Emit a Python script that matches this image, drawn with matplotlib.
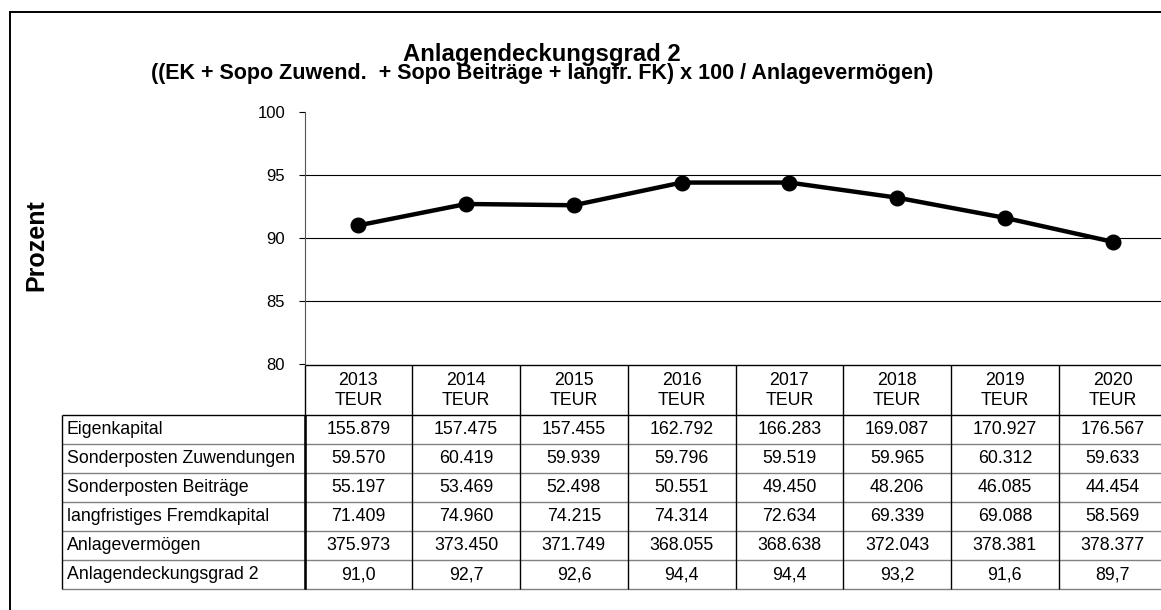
import matplotlib
matplotlib.use("Agg")
import matplotlib.pyplot as plt
from matplotlib.patches import Rectangle

plt.rcParams['font.family'] = ['Liberation Sans', 'DejaVu Sans']

years = ["2013", "2014", "2015", "2016", "2017", "2018", "2019", "2020"]
unit = "TEUR"
row_labels = ["Eigenkapital", "Sonderposten Zuwendungen", "Sonderposten Beiträge",
              "langfristiges Fremdkapital", "Anlagevermögen", "Anlagendeckungsgrad 2"]
eigenkapital = ["155.879", "157.475", "157.455", "162.792", "166.283", "169.087", "170.927", "176.567"]
sopo_zuw = ["59.570", "60.419", "59.939", "59.796", "59.519", "59.965", "60.312", "59.633"]
sopo_beitr = ["55.197", "53.469", "52.498", "50.551", "49.450", "48.206", "46.085", "44.454"]
langfr_fk = ["71.409", "74.960", "74.215", "74.314", "72.634", "69.339", "69.088", "58.569"]
anlageverm = ["375.973", "373.450", "371.749", "368.055", "368.638", "372.043", "378.381", "378.377"]
deckungsgrad = [91.0, 92.7, 92.6, 94.4, 94.4, 93.2, 91.6, 89.7]

title = "Anlagendeckungsgrad 2"
subtitle = "((EK + Sopo Zuwend.  + Sopo Beiträge + langfr. FK) x 100 / Anlagevermögen)"

W, H = 1161, 610
fig = plt.figure(figsize=(W / 100, H / 100), dpi=100)

# outer chart frame (only top and left edges visible in the picture)
fig.add_artist(Rectangle((10 / W, -0.1), 1.2, 1.1 - 12 / H, transform=fig.transFigure,
                         fill=False, edgecolor='black', lw=1.4))

col_px = 107.75
ax = fig.add_axes([304.5 / W, 1 - 364 / H, 8 * col_px / W, 252 / H])
x = list(range(len(years)))
ax.plot(x, deckungsgrad, color='black', lw=3.2, marker='o', ms=10.5, zorder=3, clip_on=False)
ax.set_xlim(-0.5, len(years) - 0.5)
ax.set_ylim(80, 100)
ax.set_yticks([80, 85, 90, 95, 100])
ax.set_xticks([])
ax.tick_params(axis='y', direction='out', length=4, width=0.8, pad=10, labelsize=12)
ax.grid(axis='y', color='black', lw=0.8)
for val, gl in zip(ax.get_yticks(), ax.get_ygridlines()):
    if val in (80, 100):
        gl.set_visible(False)
for s in ('top', 'right', 'bottom'):
    ax.spines[s].set_visible(False)
ax.spines['left'].set_color('#555555')

# data table below the plot, in its own axes: x in column units, y in row units
cell_text = [eigenkapital, sopo_zuw, sopo_beitr, langfr_fk, anlageverm,
             [f"{v:.1f}".replace('.', ',') for v in deckungsgrad]]
label_w = 243 / col_px
head_h = 50 / 29
n_rows = len(row_labels)
n_cols = len(years)
tax = fig.add_axes([(304.5 - 243) / W, 1 - 589 / H, (243 + 8 * col_px) / W, 224 / H])
tax.set_xlim(-0.5 - label_w, n_cols - 0.5)
tax.set_ylim(head_h + n_rows, 0)
tax.axis('off')

fs = 12.8
left = -0.5 - label_w
bottom = head_h + n_rows
for j, yr in enumerate(years):
    tax.text(j, head_h / 2 + 0.03, f"{yr}\n{unit}", ha='center', va='center', fontsize=fs,
             linespacing=1.25)
for i, lab in enumerate(row_labels):
    y0 = head_h + i
    tax.text(left + 0.05, y0 + 0.5, lab, ha='left', va='center', fontsize=fs)
    for j, val in enumerate(cell_text[i]):
        tax.text(j, y0 + 0.5, val, ha='center', va='center', fontsize=fs)

# grid lines: black frame/verticals, grey separators between data rows
kw = dict(clip_on=False)
tax.hlines(0, -0.5, n_cols - 0.5, color='black', lw=1.0, **kw)
tax.hlines(head_h, left, n_cols - 0.5, color='black', lw=1.0, **kw)
tax.hlines([head_h + i for i in range(1, n_rows)], left, n_cols - 0.5, color='#808080', lw=1.0, **kw)
tax.hlines(bottom, left, n_cols - 0.5, color='#808080', lw=1.0, **kw)
tax.vlines(left, head_h, bottom, color='black', lw=1.0, **kw)
tax.vlines(-0.5, 0, bottom, color='black', lw=1.0, **kw)
tax.vlines(-0.5, head_h, bottom, color='black', lw=1.8, **kw)
tax.vlines([j + 0.5 for j in range(n_cols)], 0, bottom, color='black', lw=1.0, **kw)

fig.text(541.5 / W, 1 - 60.5 / H, title, ha='center', va='baseline',
         fontsize=17.2, fontweight='bold')
fig.text(542 / W, 1 - 79.5 / H, subtitle, ha='center', va='baseline',
         fontsize=15.5, fontweight='bold')
fig.text(36 / W, 1 - 245 / H, "Prozent", rotation=90, ha='center', va='center',
         fontsize=18, fontweight='bold')

fig.savefig("out.png", dpi=100)
